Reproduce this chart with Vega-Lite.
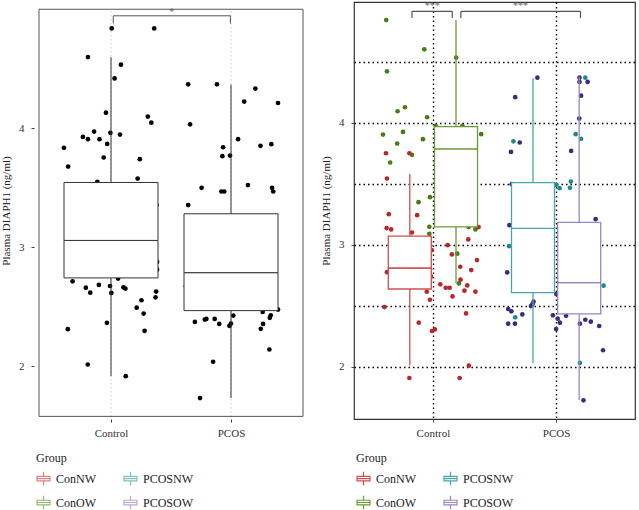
{
"$schema": "https://vega.github.io/schema/vega-lite/v6.json",
"padding": {"left": 0, "top": 0, "right": 0, "bottom": 0},
"background": "white",
"config": {
  "font": "Liberation Serif",
  "view": {"stroke": "#444", "strokeWidth": 1},
  "axis": {"labelFont": "Liberation Serif", "titleFont": "Liberation Serif", "labelFontSize": 11, "titleFontSize": 11, "titleFontWeight": "normal", "labelColor": "#333", "titleColor": "#222", "domain": false, "tickSize": 3, "tickColor": "#444", "labelPadding": 7, "titlePadding": 7},
  "legend": {"orient": "bottom", "direction": "horizontal", "columns": 2, "titleOrient": "top", "titleFont": "Liberation Serif", "titleFontSize": 12, "titleFontWeight": "normal", "titleColor": "#222", "labelFont": "Liberation Serif", "labelFontSize": 12, "labelColor": "#222", "symbolType": "M-1,-0.35H1V0.35H-1ZM-1,0H1M0,-0.35V-1.05M0,0.35V1.05", "symbolSize": 169, "symbolStrokeWidth": 1.2, "symbolFillColor": "transparent", "rowPadding": 5, "columnPadding": 14, "labelOffset": 5, "offset": 13, "padding": 2, "titlePadding": 6, "gridAlign": "all"},
  "concat": {"spacing": 11}
},
"datasets": {
  "left_pts": [
    {"cond":"Control","jx":1.006,"value":4.839},{"cond":"Control","jx":1.360,"value":4.839},{"cond":"Control","jx":0.808,"value":4.598},{"cond":"Control","jx":1.083,"value":4.534},{"cond":"Control","jx":1.030,"value":4.419},{"cond":"Control","jx":0.958,"value":4.131},{"cond":"Control","jx":1.307,"value":4.098},{"cond":"Control","jx":1.336,"value":4.047},{"cond":"Control","jx":0.859,"value":3.972},{"cond":"Control","jx":0.995,"value":3.961},{"cond":"Control","jx":1.075,"value":3.947},{"cond":"Control","jx":0.766,"value":3.927},{"cond":"Control","jx":0.808,"value":3.908},{"cond":"Control","jx":0.904,"value":3.908},{"cond":"Control","jx":0.968,"value":3.868},{"cond":"Control","jx":0.608,"value":3.835},{"cond":"Control","jx":0.939,"value":3.754},{"cond":"Control","jx":1.240,"value":3.740},{"cond":"Control","jx":0.643,"value":3.678},{"cond":"Control","jx":1.222,"value":3.577},{"cond":"Control","jx":0.886,"value":3.550},{"cond":"Control","jx":1.379,"value":3.357},
    {"cond":"Control","jx":1.384,"value":2.876},{"cond":"Control","jx":1.384,"value":2.811},{"cond":"Control","jx":0.680,"value":2.713},{"cond":"Control","jx":1.059,"value":2.736},{"cond":"Control","jx":0.790,"value":2.660},{"cond":"Control","jx":0.827,"value":2.618},{"cond":"Control","jx":0.899,"value":2.683},{"cond":"Control","jx":0.992,"value":2.674},{"cond":"Control","jx":1.003,"value":2.616},{"cond":"Control","jx":1.104,"value":2.663},{"cond":"Control","jx":1.120,"value":2.652},{"cond":"Control","jx":1.376,"value":2.627},{"cond":"Control","jx":1.371,"value":2.579},{"cond":"Control","jx":1.254,"value":2.554},{"cond":"Control","jx":1.214,"value":2.492},{"cond":"Control","jx":1.272,"value":2.442},{"cond":"Control","jx":0.640,"value":2.311},{"cond":"Control","jx":0.966,"value":2.364},{"cond":"Control","jx":1.280,"value":2.297},{"cond":"Control","jx":0.806,"value":2.014},{"cond":"Control","jx":1.123,"value":1.916},
    {"cond":"PCOS","jx":1.643,"value":4.369},{"cond":"PCOS","jx":1.883,"value":4.369},{"cond":"PCOS","jx":2.203,"value":4.333},{"cond":"PCOS","jx":2.110,"value":4.224},{"cond":"PCOS","jx":2.392,"value":4.212},{"cond":"PCOS","jx":1.659,"value":4.033},{"cond":"PCOS","jx":2.059,"value":3.908},{"cond":"PCOS","jx":1.934,"value":3.840},{"cond":"PCOS","jx":2.246,"value":3.852},{"cond":"PCOS","jx":2.336,"value":3.866},{"cond":"PCOS","jx":1.928,"value":3.765},{"cond":"PCOS","jx":1.992,"value":3.770},{"cond":"PCOS","jx":1.755,"value":3.499},{"cond":"PCOS","jx":2.141,"value":3.522},{"cond":"PCOS","jx":2.342,"value":3.499},{"cond":"PCOS","jx":2.352,"value":3.468},{"cond":"PCOS","jx":1.920,"value":3.468},{"cond":"PCOS","jx":1.944,"value":3.468},{"cond":"PCOS","jx":1.643,"value":3.354},
    {"cond":"PCOS","jx":1.624,"value":2.671},{"cond":"PCOS","jx":1.699,"value":2.372},{"cond":"PCOS","jx":1.782,"value":2.392},{"cond":"PCOS","jx":1.795,"value":2.397},{"cond":"PCOS","jx":1.864,"value":2.397},{"cond":"PCOS","jx":1.902,"value":2.355},{"cond":"PCOS","jx":2.019,"value":2.425},{"cond":"PCOS","jx":2.000,"value":2.358},{"cond":"PCOS","jx":1.987,"value":2.339},{"cond":"PCOS","jx":2.264,"value":2.456},{"cond":"PCOS","jx":2.331,"value":2.428},{"cond":"PCOS","jx":2.323,"value":2.406},{"cond":"PCOS","jx":2.392,"value":2.476},{"cond":"PCOS","jx":2.267,"value":2.355},{"cond":"PCOS","jx":2.248,"value":2.314},{"cond":"PCOS","jx":2.320,"value":2.140},{"cond":"PCOS","jx":1.851,"value":2.037},{"cond":"PCOS","jx":1.742,"value":1.732}
  ],
  "right_pts": [
    {"group":"ConOW","jx":0.621,"value":4.840},{"group":"ConOW","jx":0.930,"value":4.600},{"group":"ConOW","jx":1.188,"value":4.532},{"group":"ConOW","jx":0.627,"value":4.420},{"group":"ConOW","jx":0.713,"value":4.093},{"group":"ConOW","jx":0.773,"value":4.126},{"group":"ConOW","jx":0.953,"value":4.044},{"group":"ConOW","jx":1.023,"value":3.973},{"group":"ConOW","jx":1.392,"value":3.905},{"group":"ConOW","jx":0.595,"value":3.902},{"group":"ConOW","jx":0.757,"value":3.924},{"group":"ConOW","jx":0.919,"value":3.864},{"group":"ConOW","jx":0.710,"value":3.828},{"group":"ConOW","jx":0.830,"value":3.736},{"group":"ConOW","jx":0.653,"value":3.673},{"group":"ConOW","jx":0.976,"value":3.389},{"group":"ConOW","jx":0.883,"value":3.348},{"group":"ConOW","jx":1.240,"value":3.973},{"group":"ConOW","jx":0.971,"value":3.147},{"group":"ConOW","jx":0.971,"value":3.089},{"group":"ConOW","jx":1.290,"value":3.144},{"group":"ConOW","jx":1.345,"value":3.125},{"group":"ConOW","jx":1.198,"value":2.926},{"group":"ConOW","jx":1.211,"value":2.683},
    {"group":"ConNW","jx":0.619,"value":3.749},{"group":"ConNW","jx":0.809,"value":3.749},{"group":"ConNW","jx":0.627,"value":3.542},{"group":"ConNW","jx":0.642,"value":3.250},{"group":"ConNW","jx":0.872,"value":3.242},{"group":"ConNW","jx":0.624,"value":3.136},{"group":"ConNW","jx":0.661,"value":3.125},{"group":"ConNW","jx":0.830,"value":3.100},{"group":"ConNW","jx":1.371,"value":3.144},{"group":"ConNW","jx":1.287,"value":3.043},{"group":"ConNW","jx":0.990,"value":2.956},{"group":"ConNW","jx":1.120,"value":2.997},{"group":"ConNW","jx":1.154,"value":2.920},{"group":"ConNW","jx":1.358,"value":2.874},{"group":"ConNW","jx":1.222,"value":2.819},{"group":"ConNW","jx":1.311,"value":2.792},{"group":"ConNW","jx":0.627,"value":2.775},{"group":"ConNW","jx":0.984,"value":2.740},{"group":"ConNW","jx":1.224,"value":2.713},{"group":"ConNW","jx":1.060,"value":2.675},{"group":"ConNW","jx":1.104,"value":2.647},{"group":"ConNW","jx":1.136,"value":2.647},{"group":"ConNW","jx":1.279,"value":2.666},{"group":"ConNW","jx":0.950,"value":2.615},{"group":"ConNW","jx":1.256,"value":2.623},{"group":"ConNW","jx":1.345,"value":2.615},{"group":"ConNW","jx":1.159,"value":2.576},{"group":"ConNW","jx":0.976,"value":2.549},{"group":"ConNW","jx":0.606,"value":2.489},{"group":"ConNW","jx":1.269,"value":2.437},{"group":"ConNW","jx":0.885,"value":2.361},{"group":"ConNW","jx":0.992,"value":2.293},{"group":"ConNW","jx":1.016,"value":2.306},{"group":"ConNW","jx":1.292,"value":2.009},{"group":"ConNW","jx":0.809,"value":1.908},{"group":"ConNW","jx":1.217,"value":1.908},
    {"group":"PCOSNW","jx":1.653,"value":3.847},{"group":"PCOSNW","jx":2.237,"value":4.368},{"group":"PCOSNW","jx":2.159,"value":3.905},{"group":"PCOSNW","jx":2.203,"value":3.867},{"group":"PCOSNW","jx":2.120,"value":3.517},{"group":"PCOSNW","jx":2.112,"value":3.466},{"group":"PCOSNW","jx":2.000,"value":3.490},{"group":"PCOSNW","jx":2.028,"value":3.463},{"group":"PCOSNW","jx":1.619,"value":2.988},{"group":"PCOSNW","jx":2.386,"value":2.664},{"group":"PCOSNW","jx":1.668,"value":2.405},{"group":"PCOSNW","jx":2.193,"value":2.031},
    {"group":"PCOSOW","jx":1.848,"value":4.368},{"group":"PCOSOW","jx":1.668,"value":4.208},{"group":"PCOSOW","jx":1.705,"value":3.837},{"group":"PCOSOW","jx":1.634,"value":3.760},{"group":"PCOSOW","jx":2.190,"value":4.368},{"group":"PCOSOW","jx":2.190,"value":4.333},{"group":"PCOSOW","jx":2.256,"value":4.333},{"group":"PCOSOW","jx":2.203,"value":4.221},{"group":"PCOSOW","jx":2.188,"value":4.033},{"group":"PCOSOW","jx":2.122,"value":3.768},{"group":"PCOSOW","jx":1.640,"value":3.496},{"group":"PCOSOW","jx":1.621,"value":3.160},{"group":"PCOSOW","jx":1.603,"value":2.773},{"group":"PCOSOW","jx":2.002,"value":2.595},{"group":"PCOSOW","jx":1.817,"value":2.533},{"group":"PCOSOW","jx":1.807,"value":2.511},{"group":"PCOSOW","jx":1.796,"value":2.497},{"group":"PCOSOW","jx":1.611,"value":2.473},{"group":"PCOSOW","jx":1.637,"value":2.454},{"group":"PCOSOW","jx":1.726,"value":2.429},{"group":"PCOSOW","jx":1.611,"value":2.353},{"group":"PCOSOW","jx":1.666,"value":2.353},{"group":"PCOSOW","jx":1.974,"value":2.421},{"group":"PCOSOW","jx":2.013,"value":2.394},{"group":"PCOSOW","jx":2.031,"value":2.361},{"group":"PCOSOW","jx":2.000,"value":2.309},{"group":"PCOSOW","jx":2.081,"value":2.418},{"group":"PCOSOW","jx":2.237,"value":2.385},{"group":"PCOSOW","jx":2.282,"value":2.369},{"group":"PCOSOW","jx":2.193,"value":2.353},{"group":"PCOSOW","jx":2.350,"value":2.334},{"group":"PCOSOW","jx":2.381,"value":2.135},{"group":"PCOSOW","jx":2.222,"value":1.725},{"group":"PCOSOW","jx":2.321,"value":3.209}
  ],
  "left_box": [
    {"cond":"Control","x":1,"lower":1.916,"q1":2.742,"median":3.057,"q3":3.544,"upper":4.596},
    {"cond":"PCOS","x":2,"lower":1.732,"q1":2.467,"median":2.786,"q3":3.281,"upper":4.366}
  ],
  "right_box": [
    {"group":"ConNW","x":0.8125,"lower":2.01,"q1":2.637,"median":2.809,"q3":3.070,"upper":3.58},
    {"group":"ConOW","x":1.1875,"lower":2.687,"q1":3.146,"median":3.785,"q3":3.967,"upper":4.84},
    {"group":"PCOSNW","x":1.8125,"lower":2.03,"q1":2.607,"median":3.133,"q3":3.509,"upper":4.366},
    {"group":"PCOSOW","x":2.1875,"lower":1.727,"q1":2.433,"median":2.689,"q3":3.182,"upper":4.376}
  ],
  "left_sig": [
    {"x1":1.019,"x2":1.995,"xm":1.507,"y":4.945,"yend":4.88,"ytext":4.978,"label":"*"}
  ],
  "right_sig": [
    {"x1":0.830,"x2":1.157,"xm":0.994,"y":4.912,"yend":4.857,"ytext":4.955,"label":"***"},
    {"x1":1.227,"x2":2.198,"xm":1.712,"y":4.912,"yend":4.857,"ytext":4.955,"label":"***"}
  ]
},
"hconcat": [
  {
    "width": 274, "height": 417,
    "view": {"stroke": null},
    "layer": [
      {
        "data": {"name": "left_box"},
        "mark": {"type": "rule", "color": "#999", "strokeWidth": 0.8, "strokeDash": [1, 3]},
        "encoding": {
          "x": {"field": "x", "type": "quantitative", "scale": {"domain": [0.4, 2.6], "nice": false, "zero": false},
                "axis": {"title": null, "values": [1, 2], "grid": false, "labelExpr": "datum.value == 1 ? 'Control' : 'PCOS'", "labelPadding": 5}},
          "y": {"datum": 1.578, "type": "quantitative", "scale": {"domain": [1.556, 5.061], "nice": false, "zero": false},
                "axis": {"title": "Plasma DIAPH1 (ng/ml)", "values": [2, 2.5, 3, 3.5, 4, 4.5], "labelExpr": "datum.value % 1 === 0 ? format(datum.value, 'd') : ''", "tickOpacity": {"condition": {"test": "datum.value % 1 !== 0", "value": 0}, "value": 1}, "gridColor": "#999", "gridDash": [1, 3], "gridWidth": 0.8}},
          "y2": {"datum": 5.0}
        }
      },
      {
        "data": {"name": "left_pts"},
        "mark": {"type": "circle", "size": 22, "opacity": 1, "color": "#000"},
        "encoding": {"x": {"field": "jx", "type": "quantitative"}, "y": {"field": "value", "type": "quantitative"}}
      },
      {
        "data": {"name": "left_box"},
        "mark": {"type": "rule", "color": "#333", "strokeWidth": 1},
        "encoding": {"x": {"field": "x", "type": "quantitative"}, "y": {"field": "lower", "type": "quantitative"}, "y2": {"field": "upper"}}
      },
      {
        "data": {"name": "left_box"},
        "mark": {"type": "bar", "size": 94, "fill": "white", "stroke": "#333", "strokeWidth": 1},
        "encoding": {"x": {"field": "x", "type": "quantitative"}, "y": {"field": "q1", "type": "quantitative"}, "y2": {"field": "median"}}
      },
      {
        "data": {"name": "left_box"},
        "mark": {"type": "bar", "size": 94, "fill": "white", "stroke": "#333", "strokeWidth": 1},
        "encoding": {"x": {"field": "x", "type": "quantitative"}, "y": {"field": "median", "type": "quantitative"}, "y2": {"field": "q3"}}
      },
      {
        "data": {"name": "left_sig"},
        "mark": {"type": "rule", "color": "#555", "strokeWidth": 1},
        "encoding": {"x": {"field": "x1", "type": "quantitative"}, "x2": {"field": "x2"}, "y": {"field": "y", "type": "quantitative"}}
      },
      {
        "data": {"name": "left_sig"},
        "mark": {"type": "rule", "color": "#555", "strokeWidth": 1},
        "encoding": {"x": {"field": "x1", "type": "quantitative"}, "y": {"field": "y", "type": "quantitative"}, "y2": {"field": "yend"}}
      },
      {
        "data": {"name": "left_sig"},
        "mark": {"type": "rule", "color": "#555", "strokeWidth": 1},
        "encoding": {"x": {"field": "x2", "type": "quantitative"}, "y": {"field": "y", "type": "quantitative"}, "y2": {"field": "yend"}}
      },
      {
        "data": {"name": "left_sig"},
        "mark": {"type": "text", "font": "Liberation Serif", "fontSize": 10, "color": "#666", "baseline": "middle"},
        "encoding": {"x": {"field": "xm", "type": "quantitative"}, "y": {"field": "ytext", "type": "quantitative"}, "text": {"field": "label"}}
      },
      {
        "data": {"values": [{"panel": "frame"}]},
        "mark": {"type": "rect", "fill": null, "fillOpacity": 0, "stroke": "#555", "strokeWidth": 1},
        "encoding": {"x": {"datum": 0.4, "type": "quantitative"}, "x2": {"datum": 2.6}, "y": {"datum": 1.578, "type": "quantitative"}, "y2": {"datum": 5.0}}
      },
      {
        "data": {"name": "right_box"},
        "transform": [{"filter": "false"}],
        "mark": {"type": "point", "fill": "white", "filled": false},
        "encoding": {
          "stroke": {"field": "group", "type": "nominal", "scale": {"domain": ["ConNW", "PCOSNW", "ConOW", "PCOSOW"], "range": ["#cf4f4f", "#4aa6a6", "#6c9a38", "#9887c5"]}, "legend": {"title": "Group"}}
        }
      }
    ]
  },
  {
    "width": 281, "height": 417,
    "view": {"stroke": "#333", "strokeWidth": 1.2},
    "layer": [
      {
        "data": {"name": "right_pts"},
        "mark": {"type": "circle", "size": 22, "opacity": 1},
        "encoding": {
          "x": {"field": "jx", "type": "quantitative", "scale": {"domain": [0.4, 2.6], "nice": false, "zero": false},
                "axis": {"title": null, "values": [1, 2], "labelExpr": "datum.value == 1 ? 'Control' : 'PCOS'", "labelPadding": 5, "gridColor": "#000", "gridDash": [1.5, 3], "gridWidth": 1.4}},
          "y": {"field": "value", "type": "quantitative", "scale": {"domain": [1.572, 4.988], "nice": false, "zero": false},
                "axis": {"title": "Plasma DIAPH1 (ng/ml)", "values": [2, 2.5, 3, 3.5, 4, 4.5], "labelExpr": "datum.value % 1 === 0 ? format(datum.value, 'd') : ''", "tickOpacity": {"condition": {"test": "datum.value % 1 !== 0", "value": 0}, "value": 1}, "gridColor": "#000", "gridDash": [1.5, 3], "gridWidth": 1.4}},
          "fill": {"field": "group", "type": "nominal", "scale": {"domain": ["ConNW", "ConOW", "PCOSNW", "PCOSOW"], "range": ["#b5282b", "#4a7c16", "#1f8a8c", "#3d2a7e"]}, "legend": null}
        }
      },
      {
        "data": {"name": "right_box"},
        "mark": {"type": "rule", "strokeWidth": 1.3},
        "encoding": {"x": {"field": "x", "type": "quantitative"}, "y": {"field": "lower", "type": "quantitative"}, "y2": {"field": "upper"},
          "stroke": {"field": "group", "type": "nominal", "scale": {"domain": ["ConNW", "PCOSNW", "ConOW", "PCOSOW"], "range": ["#cf4f4f", "#4aa6a6", "#6c9a38", "#9887c5"]}, "legend": {"title": "Group"}}}
      },
      {
        "data": {"name": "right_box"},
        "mark": {"type": "bar", "size": 43, "fill": "white", "strokeWidth": 1.3},
        "encoding": {"x": {"field": "x", "type": "quantitative"}, "y": {"field": "q1", "type": "quantitative"}, "y2": {"field": "median"},
          "stroke": {"field": "group", "type": "nominal"}}
      },
      {
        "data": {"name": "right_box"},
        "mark": {"type": "bar", "size": 43, "fill": "white", "strokeWidth": 1.3},
        "encoding": {"x": {"field": "x", "type": "quantitative"}, "y": {"field": "median", "type": "quantitative"}, "y2": {"field": "q3"},
          "stroke": {"field": "group", "type": "nominal"}}
      },
      {
        "data": {"name": "right_sig"},
        "mark": {"type": "rule", "color": "#555", "strokeWidth": 1.2},
        "encoding": {"x": {"field": "x1", "type": "quantitative"}, "x2": {"field": "x2"}, "y": {"field": "y", "type": "quantitative"}}
      },
      {
        "data": {"name": "right_sig"},
        "mark": {"type": "rule", "color": "#555", "strokeWidth": 1.2},
        "encoding": {"x": {"field": "x1", "type": "quantitative"}, "y": {"field": "y", "type": "quantitative"}, "y2": {"field": "yend"}}
      },
      {
        "data": {"name": "right_sig"},
        "mark": {"type": "rule", "color": "#555", "strokeWidth": 1.2},
        "encoding": {"x": {"field": "x2", "type": "quantitative"}, "y": {"field": "y", "type": "quantitative"}, "y2": {"field": "yend"}}
      },
      {
        "data": {"name": "right_sig"},
        "mark": {"type": "text", "font": "Liberation Serif", "fontSize": 10, "color": "#666", "baseline": "middle"},
        "encoding": {"x": {"field": "xm", "type": "quantitative"}, "y": {"field": "ytext", "type": "quantitative"}, "text": {"field": "label"}}
      }
    ]
  }
],
"resolve": {"scale": {"x": "independent", "y": "independent", "stroke": "independent", "fill": "independent"}, "legend": {"stroke": "independent"}}
}
